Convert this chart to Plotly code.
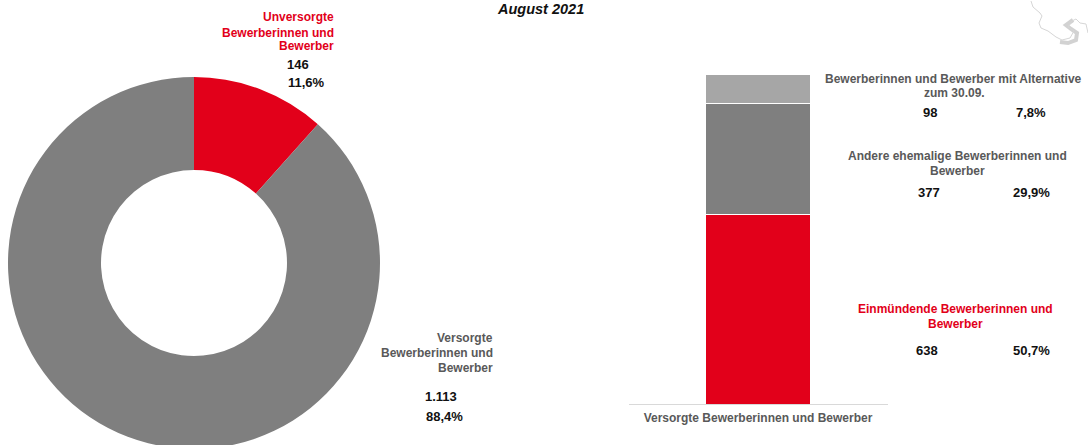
import plotly.graph_objects as go

W, H = 1088, 460

pie_labels = ["Unversorgte Bewerberinnen und Bewerber", "Versorgte Bewerberinnen und Bewerber"]
pie_values = [146, 1113]
pie_colors = ["#E2001A", "#7F7F7F"]

bar_category = ["Versorgte Bewerberinnen und Bewerber"]
bar_names = ["Einmündende Bewerberinnen und Bewerber", "Andere ehemalige Bewerberinnen und Bewerber",
             "Bewerberinnen und Bewerber mit Alternative zum 30.09."]
bar_values = [638, 377, 98]
bar_colors = ["#E2001A", "#7F7F7F", "#A6A6A6"]

FONT = "Liberation Sans, Arial, sans-serif"
GREY = "#595959"
RED = "#E2001A"
BLACK = "#111111"

def px(x):
    return x / W

def py(y):
    return 1 - y / H

fig = go.Figure()

cx, cy, r = 194, 263, 186
fig.add_trace(go.Pie(
    labels=pie_labels, values=pie_values, hole=0.5, sort=False, direction="clockwise", rotation=0,
    marker=dict(colors=pie_colors, line=dict(width=0)), textinfo="none", showlegend=False,
    domain=dict(x=[px(cx - r), px(cx + r)], y=[py(cy + r), py(cy - r)]),
))

for name, val, col in zip(bar_names, bar_values, bar_colors):
    fig.add_trace(go.Bar(x=bar_category, y=[val], name=name, marker=dict(color=col, line=dict(color="white", width=1)),
                         width=0.402, showlegend=False))

LBL = 12
NUM = 13
texts = [
    ("Unversorgte", 336, 17, "right", RED, LBL),
    ("Bewerberinnen und", 336, 33, "right", RED, LBL),
    ("Bewerber", 336, 46, "right", RED, LBL),
    ("146", 298, 65, "center", BLACK, NUM),
    ("11,6%", 306, 83, "center", BLACK, NUM),
    ("Versorgte", 495, 338, "right", GREY, LBL),
    ("Bewerberinnen und", 495, 353, "right", GREY, LBL),
    ("Bewerber", 495, 368, "right", GREY, LBL),
    ("1.113", 441, 396, "center", BLACK, NUM),
    ("88,4%", 444, 416, "center", BLACK, NUM),
    ("Bewerberinnen und Bewerber mit Alternative", 953, 79, "center", GREY, LBL),
    ("zum 30.09.", 954, 93, "center", GREY, LBL),
    ("98", 930, 112, "center", BLACK, NUM),
    ("7,8%", 1031, 112, "center", BLACK, NUM),
    ("Andere ehemalige Bewerberinnen und", 957, 156, "center", GREY, LBL),
    ("Bewerber", 957, 171, "center", GREY, LBL),
    ("377", 929, 192, "center", BLACK, NUM),
    ("29,9%", 1031, 192, "center", BLACK, NUM),
    ("Einmündende Bewerberinnen und", 955, 309, "center", RED, LBL),
    ("Bewerber", 955, 324, "center", RED, LBL),
    ("638", 927, 350, "center", BLACK, NUM),
    ("50,7%", 1031, 350, "center", BLACK, NUM),
]
annotations = [dict(text=f"<b>{t}</b>", x=px(x), y=py(y), xref="paper", yref="paper", xanchor=a, yanchor="middle",
                    showarrow=False, font=dict(family=FONT, size=s, color=c))
               for t, x, y, a, c, s in texts]
annotations.append(dict(text="<b><i>August 2021</i></b>", x=px(540), y=py(9), xref="paper", yref="paper",
                        xanchor="center", yanchor="middle", showarrow=False,
                        font=dict(family=FONT, size=14.5, color="#111111")))

def path(points):
    return "M " + " L ".join(f"{px(x):.5f} {py(y):.5f}" for x, y in points)

border = [(1031, 1), (1033, 7), (1040, 13), (1042, 16), (1039, 23), (1041, 28), (1048, 31), (1056, 37), (1062, 40),
          (1070, 38), (1074, 31), (1068, 27), (1072, 21), (1076, 19), (1080, 23), (1086, 24), (1088, 33)]
shadow = [(1073, 20), (1066, 25), (1071, 29), (1077, 33), (1076, 40), (1068, 43), (1060, 42)]

fig.update_layout(
    width=W, height=H, margin=dict(l=0, r=0, t=0, b=0),
    paper_bgcolor="white", plot_bgcolor="white", barmode="stack",
    xaxis=dict(domain=[px(628.5), px(887.5)], anchor="y", showgrid=False, showline=True, linecolor="#D9D9D9", linewidth=1,
               ticks="", ticklabelstandoff=3, tickfont=dict(family=FONT, size=12, color=GREY),
               tickprefix="<b>", ticksuffix="</b>"),
    yaxis=dict(domain=[py(404), py(74)], range=[0, 1113], visible=False, fixedrange=True),
    annotations=annotations,
    shapes=[
        dict(type="path", path=path(shadow), xref="paper", yref="paper", line=dict(color="#B5B5B5", width=4), opacity=0.6),
        dict(type="path", path=path(border), xref="paper", yref="paper", line=dict(color="#D6D6D6", width=1)),
    ],
)

fig.write_html("out.html", config=dict(displayModeBar=False),
               post_script="document.body.style.margin='0';document.documentElement.style.overflow='hidden';document.body.style.overflow='hidden';")
